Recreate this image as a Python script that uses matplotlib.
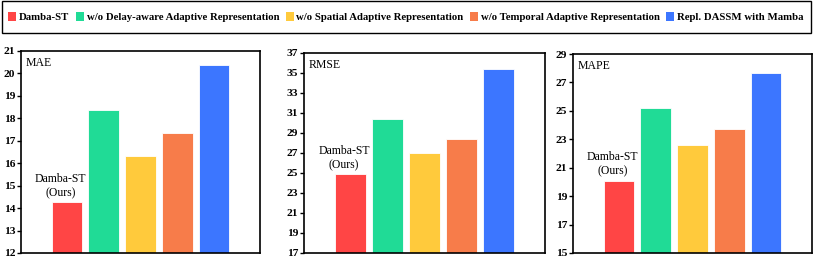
import matplotlib
matplotlib.use("Agg")
import matplotlib.pyplot as plt
from matplotlib.patches import Patch, Rectangle

# -----------------------------
# Data
# -----------------------------
variants = [
    "Damba-ST",
    "w/o Delay-aware Adaptive Representation",
    "w/o Spatial Adaptive Representation",
    "w/o Temporal Adaptive Representation",
    "Repl. DASSM with Mamba",
]
colors = ["#FF4545", "#20DB96", "#FFCA3C", "#F77C4A", "#3C76FF"]

metrics = ["MAE", "RMSE", "MAPE"]
mae = [14.25, 18.38, 16.32, 17.36, 20.38]
rmse = [24.85, 30.39, 27.02, 28.44, 35.40]
mape = [20.10, 25.18, 22.62, 23.71, 27.68]

y_limits = [(12, 21), (17, 37), (15, 29)]
y_ticks = [list(range(12, 22, 1)), list(range(17, 38, 2)), list(range(15, 30, 2))]

plt.rcParams["font.family"] = ["Liberation Serif", "DejaVu Serif"]

W, H = 814, 260
fig = plt.figure(figsize=(W / 100, H / 100), dpi=100)

# axes boxes in pixels: left, right, top, bottom
boxes = [(21, 260, 51, 253), (304, 545, 53, 253), (573, 812, 54, 253)]

xs = list(range(len(variants)))
for (l, r, t, b), name, vals, ylim, yt in zip(boxes, metrics, [mae, rmse, mape], y_limits, y_ticks):
    ax = fig.add_axes([l / W, 1 - b / H, (r - l) / W, (b - t) / H])
    ax.bar(xs, vals, width=0.84, color=colors, edgecolor="white", linewidth=0.6, zorder=2)
    ax.set_xlim(-1.25, 5.25)
    ax.set_ylim(*ylim)
    ax.set_yticks(yt)
    ax.set_xticks([])
    for s in ax.spines.values():
        s.set_linewidth(1.2)
        s.set_color("black")
    ax.tick_params(axis="y", direction="out", length=3, width=1, pad=1.2, labelsize=8.2)
    for lab in ax.get_yticklabels():
        lab.set_fontweight("bold")
    ax.text(0.02, 0.94, name, transform=ax.transAxes, ha="left", va="center", fontsize=8.5)
    ax.annotate("Damba-ST\n(Ours)", xy=(-0.17, vals[0]), xytext=(0, 2),
                textcoords="offset points", ha="center", va="bottom",
                fontsize=8.5, linespacing=1.3)

# -----------------------------
# Legend across the top
# -----------------------------
handles = [Patch(facecolor=c, edgecolor="none") for c in colors]
leg = fig.legend(
    handles, variants,
    loc="center",
    bbox_to_anchor=(406 / W, 1 - 17 / H),
    ncol=5,
    frameon=False,
    prop={"weight": "bold", "size": 7.75},
    handlelength=0.75,
    handleheight=1.0,
    handletextpad=0.25,
    columnspacing=0.6,
    borderpad=0,
    borderaxespad=0,
)
# outer box of the legend strip
fig.patches.append(Rectangle((2 / W, 1 - 33 / H), 809 / W, 32 / H,
                             transform=fig.transFigure, fill=False,
                             edgecolor="black", linewidth=1.0))

fig.savefig("out.png", dpi=100)
